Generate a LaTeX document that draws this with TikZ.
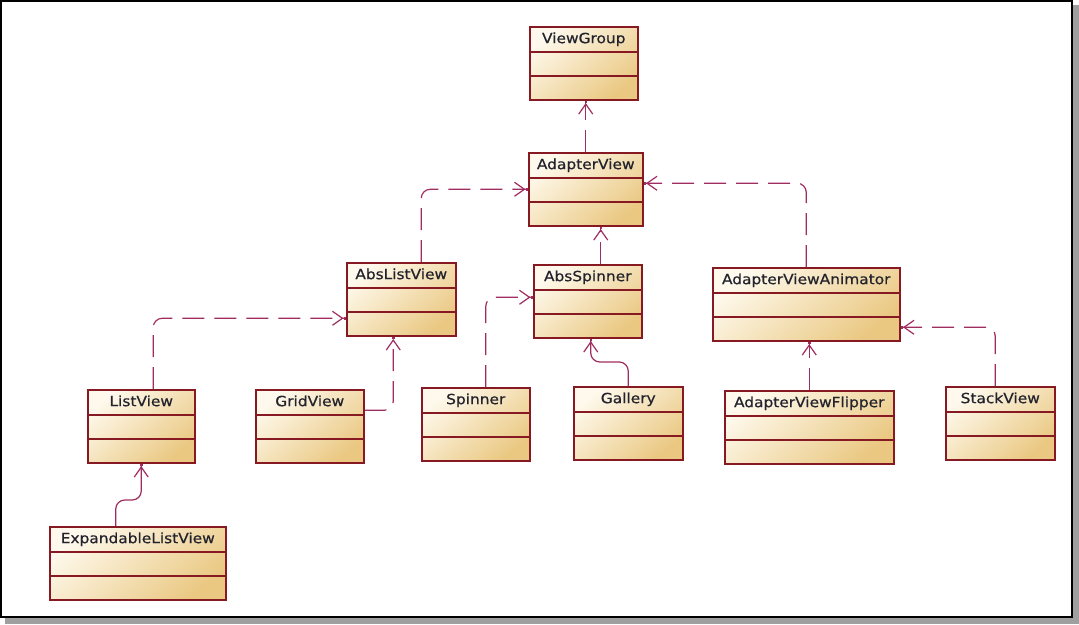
\documentclass[tikz,border=0pt]{standalone}
\usepackage{fontspec}
\setmainfont{DejaVu Sans}[FakeStretch=1.1,FakeBold=0.6]
\usetikzlibrary{arrows.meta,shapes.multipart}
\definecolor{clsline}{RGB}{135,25,35}
\definecolor{clslight}{RGB}{254,249,236}
\definecolor{clsdark}{RGB}{234,200,130}
\definecolor{linkcol}{RGB}{160,45,95}
\definecolor{labelcol}{RGB}{35,35,45}
\begin{document}
\begin{tikzpicture}[x=1pt,y=-1pt,
    umlclass/.style={rectangle split, rectangle split parts=3,
      rectangle split ignore empty parts=false,
      rectangle split empty part height=12.5pt, rectangle split empty part depth=0pt,
      draw=clsline, line width=1.5pt, top color=clslight, bottom color=clsdark,
      shading angle=40, anchor=north west, inner ysep=5pt,
      font=\fontsize{14}{16}\selectfont, text=labelcol},
    realize/.style={draw=linkcol, line width=1.2pt, rounded corners=9pt,
      dash pattern=on 22pt off 10pt,
      -{Straight Barb[length=10pt,width=14pt]Square[length=2.5pt,width=2.5pt]}},
    extend/.style={realize, solid}]
    \useasboundingbox (0,0) rectangle (1079,624);
    \fill[gray!75] (5,5) rectangle (1079,624);
    \draw[line width=2pt, fill=white] (1,1) rectangle (1072,617);

    \node[umlclass, minimum width=108pt] (vg) at (529,26) {ViewGroup\vphantom{p}};
    \node[umlclass, minimum width=114pt] (av) at (528,152) {AdapterView\vphantom{p}};
    \node[umlclass, minimum width=109pt] (alv) at (346,262) {AbsListView\vphantom{p}};
    \node[umlclass, minimum width=108pt] (asp) at (533,264) {AbsSpinner\vphantom{p}};
    \node[umlclass, minimum width=187pt] (ava) at (712,267) {AdapterViewAnimator\vphantom{p}};
    \node[umlclass, minimum width=107pt] (lv) at (87,389) {ListView\vphantom{p}};
    \node[umlclass, minimum width=108pt] (gv) at (255,389) {GridView\vphantom{p}};
    \node[umlclass, minimum width=108pt] (sp) at (421,387) {Spinner\vphantom{p}};
    \node[umlclass, minimum width=109pt] (gal) at (573,386) {Gallery\vphantom{p}};
    \node[umlclass, minimum width=169pt] (avf) at (724,390) {AdapterViewFlipper\vphantom{p}};
    \node[umlclass, minimum width=109pt] (sv) at (945,386) {StackView\vphantom{p}};
    \node[umlclass, minimum width=176pt] (elv) at (49,526) {ExpandableListView\vphantom{p}};

    \draw[realize] (av.north) -- (av.north |- vg.south);
    \draw[realize] ([xshift=20pt]alv.north) |- (av.west);
    \draw[realize] ([xshift=13pt]asp.north) -- ([xshift=13pt]asp.north |- av.south);
    \draw[realize] (ava.north) |- ([yshift=6pt]av.east);
    \draw[realize] ([xshift=12pt]lv.north) |- ([yshift=-19pt]alv.west);
    \draw[realize] ([yshift=16pt]gv.east) -| ([xshift=-8pt]alv.south);
    \draw[realize] ([xshift=10pt]sp.north) |- ([yshift=4pt]asp.west);
    \draw[extend] (gal.north) -- ++(0,-24) -| ([xshift=3pt]asp.south);
    \draw[realize] (avf.north) -- (avf.north |- ava.south);
    \draw[realize] ([xshift=-5pt]sv.north) |- ([yshift=-23pt]ava.east);
    \draw[extend] ([xshift=-22pt]elv.north) -- ++(0,-26) -| (lv.south);
\end{tikzpicture}
\end{document}
